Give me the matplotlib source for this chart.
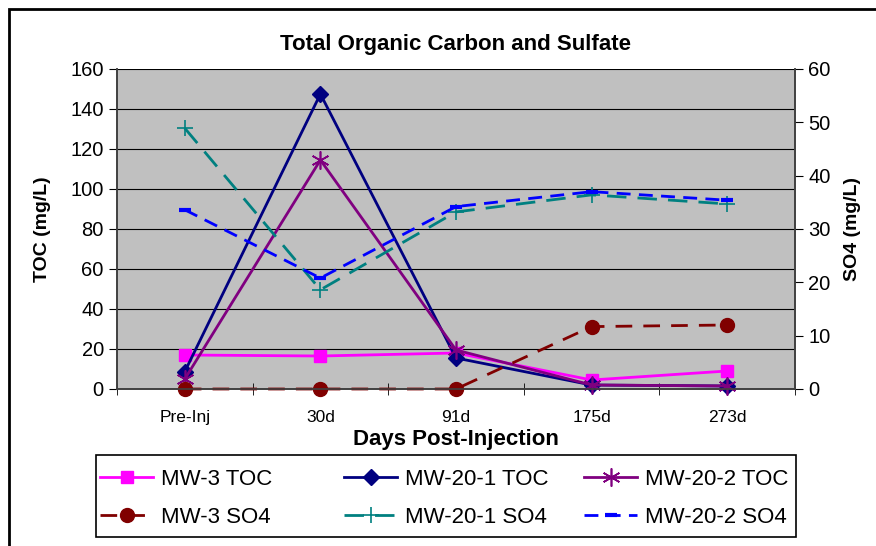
import matplotlib
matplotlib.use("Agg")
import matplotlib.pyplot as plt
from matplotlib.patches import Rectangle
import numpy as np

plt.rcParams['font.family'] = ['Liberation Sans', 'DejaVu Sans']

categories = ["Pre-Inj", "30d", "91d", "175d", "273d"]
mw3_toc = [17, 16.5, 18, 4.5, 9]
mw201_toc = [8.7, 147.5, 15.5, 2, 1.5]
mw202_toc = [5, 114.5, 19.5, 2, 1.5]
mw3_so4 = [0, 0, 0, 11.7, 12]
mw201_so4 = [48.9, 18.6, 33.2, 36.4, 34.7]
mw202_so4 = [33.6, 20.8, 34.2, 37, 35.4]

W, H = 876, 546
fig = plt.figure(figsize=(W/100, H/100), dpi=100)
fig.patches.append(Rectangle((9/W, -10/H), 900/W, 547/H, transform=fig.transFigure,
                             fill=False, edgecolor='black', linewidth=2))
ax = fig.add_axes([117/W, 1-389/H, 678/W, 320/H])
ax.set_facecolor('#C0C0C0')
ax2 = ax.twinx()

x = np.arange(len(categories))
lw = 2
l1, = ax.plot(x, mw3_toc, color='#FF00FF', lw=lw, marker='s', ms=9, label='MW-3 TOC', zorder=5, clip_on=False)
l2, = ax.plot(x, mw201_toc, color='#000080', lw=lw, marker='D', ms=8, label='MW-20-1 TOC', zorder=5, clip_on=False)
l3, = ax.plot(x, mw202_toc, color='#800080', lw=lw, marker=(6, 2, 0), ms=13, mew=1.2, label='MW-20-2 TOC', zorder=5, clip_on=False)
l4, = ax2.plot(x, mw3_so4, color='#800000', lw=lw, marker='o', ms=10, dashes=(6, 4), label='MW-3 SO4', clip_on=False)
l5, = ax2.plot(x, mw201_so4, color='#008080', lw=lw, marker='+', ms=12, mew=1.2, dashes=(7, 4), label='MW-20-1 SO4', clip_on=False)
l6, = ax2.plot(x, mw202_so4, color='#0000FF', lw=lw, marker='_', ms=9, mew=3, dashes=(5, 3), label='MW-20-2 SO4', clip_on=False)

ax.set_xlim(-0.5, 4.5)
ax.set_ylim(0, 160)
ax2.set_ylim(0, 60)
ax.set_yticks(np.arange(0, 161, 20))
ax2.set_yticks(np.arange(0, 61, 10))
ax.yaxis.grid(True, color='black', lw=0.8)
ax.set_axisbelow(True)
ax.set_xticks(x)
ax.set_xticklabels(categories)
ax.set_xticks(np.arange(-0.5, 4.6, 1), minor=True)
ax.tick_params(axis='x', which='major', length=0, labelsize=12.5, pad=15)
ax.tick_params(axis='x', which='minor', length=8, direction='inout')
ax.tick_params(axis='y', labelsize=14.5, length=6, direction='out')
ax2.tick_params(axis='y', labelsize=14.5, length=6, direction='out')
for a in (ax, ax2):
    for s in a.spines.values():
        s.set_color('#404040')
        s.set_linewidth(1.2)
ax2.spines['top'].set_visible(False)
ax.spines['top'].set_visible(False)

ax.set_xlabel('Days Post-Injection', fontsize=16, fontweight='bold', labelpad=3)
ax.set_ylabel('TOC (mg/L)', fontsize=14, fontweight='bold', labelpad=14)
ax2.set_ylabel('SO4 (mg/L)', fontsize=14, fontweight='bold', labelpad=10)
ax.set_title('Total Organic Carbon and Sulfate', fontsize=16, fontweight='bold', pad=14)

# legend frame
fig.patches.append(Rectangle((96/W, 1-537/H), 700/W, 82/H, transform=fig.transFigure,
                             fill=True, facecolor='white', edgecolor='black', linewidth=1.2))
cols = [(l1, l4), (l2, l5), (l3, l6)]
xs = [100, 344, 584]
for (ha, hb), xp in zip(cols, xs):
    lg = fig.legend(handles=[ha, hb], loc='upper left', bbox_to_anchor=(xp/W, 1-469/H),
                    fontsize=16, frameon=False, handlelength=2.4, handletextpad=0.35,
                    borderaxespad=0, borderpad=0, labelspacing=0.75)

fig.savefig('out.png', dpi=100)
